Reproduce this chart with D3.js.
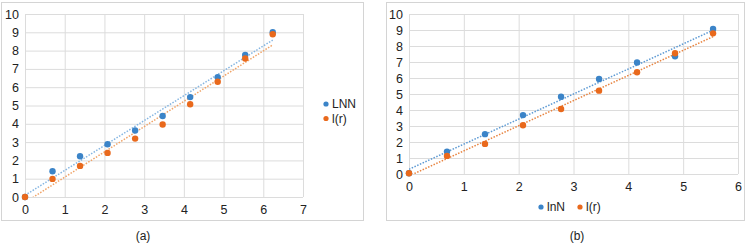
<!DOCTYPE html>
<html>
<head>
<meta charset="utf-8">
<script src="https://cdn.jsdelivr.net/npm/d3@7"></script>
<style>
  body { margin: 0; background: #fff; }
  text { font-family: "Liberation Sans", Arial, sans-serif; fill: #222; }
</style>
</head>
<body>
<script>
// panel (a): x = ln of scale, 10 points
var xA = [0, 0.693, 1.386, 2.079, 2.773, 3.466, 4.159, 4.852, 5.545, 6.238];
var lnnA = [0, 1.41, 2.23, 2.88, 3.63, 4.43, 5.46, 6.55, 7.76, 9.0];
var lrA = [0, 0.99, 1.70, 2.41, 3.19, 3.96, 5.07, 6.30, 7.57, 8.89];

// panel (b): 9 points
var xB = [0, 0.693, 1.386, 2.079, 2.773, 3.466, 4.159, 4.852, 5.545];
var lnNB = [0.05, 1.40, 2.49, 3.68, 4.83, 5.94, 6.97, 7.36, 9.06];
var lrB = [0.05, 1.13, 1.88, 3.05, 4.06, 5.21, 6.36, 7.55, 8.79];

var yTicks = [0, 1, 2, 3, 4, 5, 6, 7, 8, 9, 10];
var xTicksA = [0, 1, 2, 3, 4, 5, 6, 7];
var xTicksB = [0, 1, 2, 3, 4, 5, 6];

var blue = "#3b84c8", orange = "#e9691c";

var svg = d3.select("body").append("svg")
    .attr("width", 748)
    .attr("height", 243);

// least squares fit, like the Excel linear trendline
function fit(xs, ys) {
  var mx = d3.mean(xs), my = d3.mean(ys);
  var num = d3.sum(xs, function(d, i) { return (d - mx) * (ys[i] - my); });
  var den = d3.sum(xs, function(d) { return (d - mx) * (d - mx); });
  var b = num / den;
  return { slope: b, icpt: my - b * mx };
}

function panel(opt) {
  // outer frame
  svg.append("rect")
    .attr("x", opt.box[0]).attr("y", opt.box[1])
    .attr("width", opt.box[2] - opt.box[0]).attr("height", opt.box[3] - opt.box[1])
    .attr("fill", "none").attr("stroke", "#d4d4d4");

  var x = d3.scaleLinear().domain([0, d3.max(opt.xTicks)]).range(opt.xr);
  var y = d3.scaleLinear().domain([0, 10]).range(opt.yr);

  var g = svg.append("g");

  // grid
  g.append("g")
    .attr("transform", "translate(" + opt.xr[0] + ",0)")
    .call(d3.axisLeft(y).tickValues(yTicks).tickFormat(d3.format("d"))
      .tickSize(-(opt.xr[1] - opt.xr[0])).tickPadding(6))
    .call(function(a) {
      a.select(".domain").remove();
      a.selectAll("line").attr("stroke", "#dcdcdc");
      a.selectAll("text").style("font-size", "12.5px").attr("fill", "#222");
    });
  g.append("g")
    .attr("transform", "translate(0," + opt.yr[0] + ")")
    .call(d3.axisBottom(x).tickValues(opt.xTicks).tickFormat(d3.format("d"))
      .tickSize(-(opt.yr[0] - opt.yr[1])).tickPadding(opt.xPad))
    .call(function(a) {
      a.select(".domain").remove();
      a.selectAll("line").attr("stroke", "#dcdcdc");
      a.selectAll("text").style("font-size", "12.5px").attr("fill", "#222");
    });

  var clipId = "clip" + opt.id;
  svg.append("clipPath").attr("id", clipId).append("rect")
    .attr("x", opt.xr[0]).attr("y", opt.yr[1])
    .attr("width", opt.xr[1] - opt.xr[0]).attr("height", opt.yr[0] - opt.yr[1]);

  var series = [
    { ys: opt.s1, color: blue, trend: opt.t1 },
    { ys: opt.s2, color: orange, trend: opt.t2 }
  ];

  series.forEach(function(s) {
    var f = fit(opt.xs, s.ys);
    var x0 = opt.xs[0], x1 = opt.xs[opt.xs.length - 1];
    g.append("line")
      .attr("clip-path", "url(#" + clipId + ")")
      .attr("x1", x(x0)).attr("y1", y(f.icpt + f.slope * x0))
      .attr("x2", x(x1)).attr("y2", y(f.icpt + f.slope * x1))
      .attr("stroke", s.trend)
      .attr("stroke-width", 1.5)
      .attr("stroke-dasharray", "1.5,1.5");
  });

  series.forEach(function(s) {
    g.selectAll(null)
      .data(s.ys)
      .enter()
      .append("circle")
      .attr("cx", function(d, i) { return x(opt.xs[i]); })
      .attr("cy", function(d) { return y(d); })
      .attr("r", 3.2)
      .attr("fill", s.color);
  });

  // legend
  var lg = svg.append("g");
  opt.legend.forEach(function(l, i) {
    lg.append("circle").attr("cx", l.x).attr("cy", l.y).attr("r", 2.6)
      .attr("fill", i === 0 ? blue : orange);
    lg.append("text").attr("x", l.x + 6).attr("y", l.y + 4.3)
      .style("font-size", "12px").text(l.name);
  });

  svg.append("text")
    .attr("x", opt.cap[0]).attr("y", opt.cap[1])
    .attr("text-anchor", "middle")
    .style("font-size", "12px")
    .text(opt.caption);
}

panel({
  id: "a",
  box: [1.5, 2.5, 363.5, 220.5],
  xr: [25, 303], yr: [197, 14], xPad: 8,
  xTicks: xTicksA,
  xs: xA, s1: lnnA, s2: lrA,
  t1: "#86b6e2", t2: "#f0a468",
  legend: [{ name: "LNN", x: 326, y: 104 }, { name: "l(r)", x: 326, y: 118.5 }],
  cap: [143, 240], caption: "(a)"
});

panel({
  id: "b",
  box: [386.5, 2.5, 744.5, 220.5],
  xr: [409, 738], yr: [174, 14], xPad: 8,
  xTicks: xTicksB,
  xs: xB, s1: lnNB, s2: lrB,
  t1: "#5d9ad4", t2: "#e88440",
  legend: [{ name: "lnN", x: 541, y: 207 }, { name: "l(r)", x: 580, y: 207 }],
  cap: [577, 240], caption: "(b)"
});
</script>
</body>
</html>
